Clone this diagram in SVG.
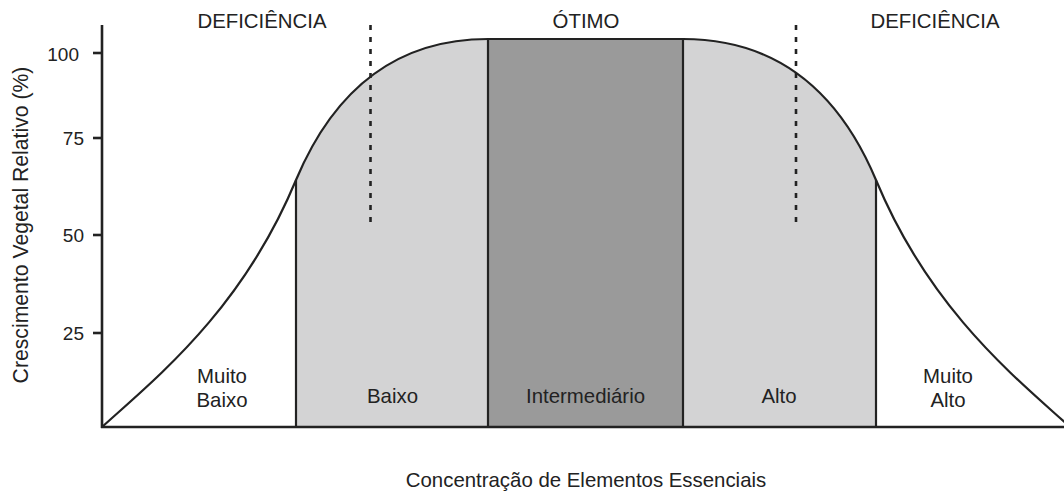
<svg xmlns="http://www.w3.org/2000/svg" width="1064" height="493" viewBox="0 0 1064 493">
<style>
text{font-family:"Liberation Sans",Arial,sans-serif;fill:#222;font-size:20.4px}
.tick{font-size:19px;text-anchor:end}
.c{text-anchor:middle}
.ln{stroke:#222;stroke-width:2.2;fill:none}
.ax{stroke:#222;stroke-width:2.6;fill:none}
.dot{stroke:#222;stroke-width:2.6;stroke-dasharray:5 7;fill:none}
</style>
<rect width="1064" height="493" fill="#fff"/>
<g id="zones">
<path id="zone-light" d="M296,427 L296,180 C333,92 395,39 488,39 L683,39 C777,39 839,92 876,180 L876,427 Z" fill="#d3d3d4"/>
<rect id="zone-dark" x="488" y="39" width="195" height="388" fill="#9a9a9a"/>
</g>
<g id="connectors">
<path id="curve" class="ln" d="M102,427 C156,378 242,310 296,180 C333,92 395,39 488,39 L683,39 C777,39 839,92 876,180 C930,310 1016,378 1070,427"/>
<line class="ln" x1="296" y1="180" x2="296" y2="427"/>
<line class="ln" x1="488" y1="39" x2="488" y2="427"/>
<line class="ln" x1="683" y1="39" x2="683" y2="427"/>
<line class="ln" x1="876" y1="180" x2="876" y2="427"/>
<line class="dot" x1="370.5" y1="25" x2="370.5" y2="224"/>
<line class="dot" x1="796" y1="25" x2="796" y2="224"/>
</g>
<g id="axes">
<line class="ax" x1="102" y1="25" x2="102" y2="428"/>
<line class="ax" x1="101" y1="427" x2="1064" y2="427"/>
<line class="ax" x1="93" y1="53" x2="102" y2="53"/>
<line class="ax" x1="93" y1="138" x2="102" y2="138"/>
<line class="ax" x1="93" y1="235" x2="102" y2="235"/>
<line class="ax" x1="93" y1="333" x2="102" y2="333"/>
<text class="tick" x="79" y="61">100</text>
<text class="tick" x="84" y="145">75</text>
<text class="tick" x="84" y="242">50</text>
<text class="tick" x="84" y="340">25</text>
<text id="y-label" class="c" transform="translate(28,225) rotate(-90)" style="font-size:21.2px">Crescimento Vegetal Relativo (%)</text>
<text id="x-label" class="c" x="586" y="487">Concentração de Elementos Essenciais</text>
</g>
<g id="top-labels">
<text class="c" x="262" y="28">DEFICIÊNCIA</text>
<text class="c" x="586" y="28">ÓTIMO</text>
<text class="c" x="935" y="28">DEFICIÊNCIA</text>
</g>
<g id="muito-baixo"><text class="c" x="222" y="383">Muito</text><text class="c" x="222" y="407">Baixo</text></g>
<g id="baixo"><text class="c" x="392.5" y="403">Baixo</text></g>
<g id="intermediario"><text class="c" x="585.5" y="403">Intermediário</text></g>
<g id="alto"><text class="c" x="779" y="403">Alto</text></g>
<g id="muito-alto"><text class="c" x="948" y="383">Muito</text><text class="c" x="948" y="407">Alto</text></g>
</svg>
